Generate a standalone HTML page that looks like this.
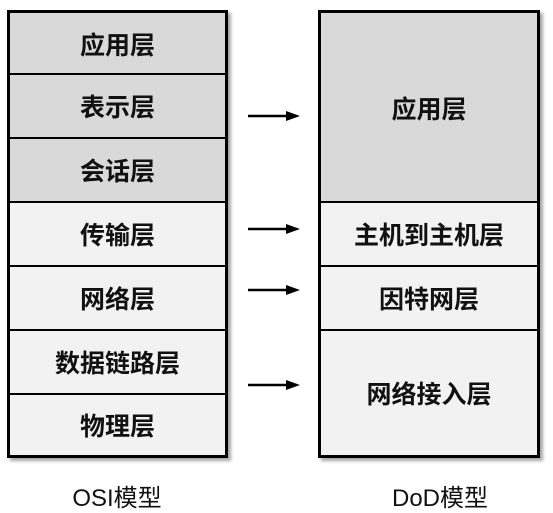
<!DOCTYPE html>
<html><head><meta charset="utf-8"><style>
body{margin:0;width:553px;height:511px;background:#fff;position:relative;font-family:"Liberation Sans","Noto Sans CJK SC",sans-serif;}
.box{position:absolute;border:3px solid #000;box-shadow:3px 3px 3px rgba(0,0,0,0.35);box-sizing:border-box;}
.r{position:absolute;left:0;right:0;display:flex;align-items:center;justify-content:center;font-weight:bold;font-size:25px;color:#111;box-sizing:border-box;}
.g{background:#d9d9d9}.l{background:#f2f2f2}
.t{border-top:2px solid #000}
.cap{position:absolute;top:478px;font-size:24px;color:#111;width:200px;text-align:center}
</style></head><body>
<div class="box" style="left:7px;top:10px;width:221px;height:448px">
<div class="r g" style="top:0;height:61px">应用层</div>
<div class="r g t" style="top:60px;height:64px">表示层</div>
<div class="r g t" style="top:124px;height:64px">会话层</div>
<div class="r l t" style="top:188px;height:64px">传输层</div>
<div class="r l t" style="top:252px;height:64px">网络层</div>
<div class="r l t" style="top:316px;height:64px">数据链路层</div>
<div class="r l t" style="top:380px;height:62px">物理层</div>
</div>
<div class="box" style="left:318px;top:10px;width:222px;height:448px">
<div class="r g" style="top:0;height:189px">应用层</div>
<div class="r l t" style="top:188px;height:64px">主机到主机层</div>
<div class="r l t" style="top:252px;height:64px">因特网层</div>
<div class="r l t" style="top:316px;height:126px">网络接入层</div>
</div>
<svg style="position:absolute;left:0;top:0" width="553" height="511">
<g stroke="#000" stroke-width="2.5" fill="#000">
<line x1="248" y1="116" x2="288" y2="116"/><polygon points="286,111 300,116 286,121" stroke="none"/>
<line x1="248" y1="229" x2="288" y2="229"/><polygon points="286,224 300,229 286,234" stroke="none"/>
<line x1="248" y1="290" x2="288" y2="290"/><polygon points="286,285 300,290 286,295" stroke="none"/>
<line x1="248" y1="385" x2="288" y2="385"/><polygon points="286,380 300,385 286,390" stroke="none"/>
</g></svg>
<div class="cap" style="left:17px">OSI模型</div>
<div class="cap" style="left:340px">DoD模型</div>
</body></html>
